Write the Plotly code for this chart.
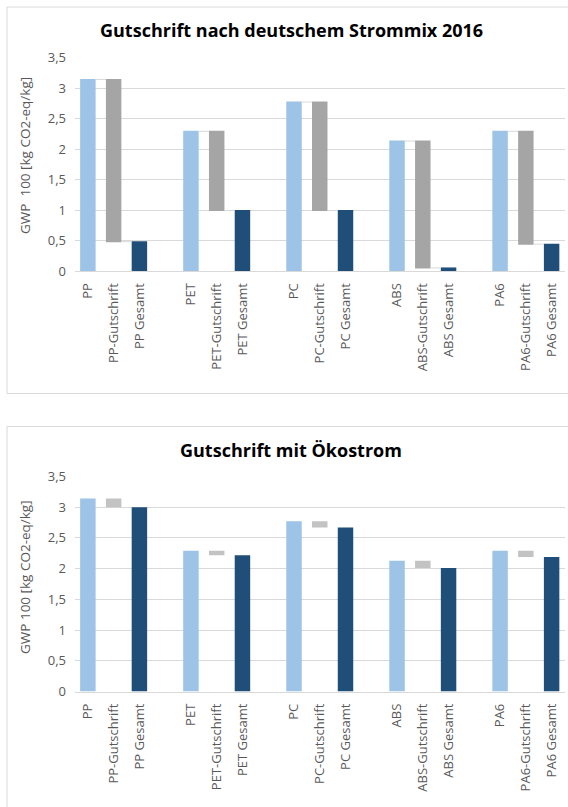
import plotly.graph_objects as go

# Material groups and GWP 100 values [kg CO2-eq/kg]
materials = ["PP", "PET", "PC", "ABS", "PA6"]
gwp_production = [3.14, 2.29, 2.77, 2.13, 2.29]
total_strommix = [0.48, 0.99, 0.99, 0.05, 0.44]
total_oekostrom = [3.00, 2.22, 2.67, 2.01, 2.19]

titles = ["Gutschrift nach deutschem Strommix 2016", "Gutschrift mit Ökostrom"]
y_titles = ["GWP \u00a0100 [kg CO2-eq/kg]", "GWP 100 [kg CO2-eq/kg]"]
y_ticks = [0, 0.5, 1, 1.5, 2, 2.5, 3, 3.5]

LIGHT_BLUE = "#9dc3e6"
DARK_BLUE = "#1f4e79"
GREYS = ["#a5a5a5", "#c3c3c3"]
GRID = "#d9d9d9"
TEXT = "#595959"
FONT = "Open Sans"

W, H = 568, 807


def px_x(v):
    return v / W


def px_y(v):
    return 1 - v / H


# plot area geometry (pixels): [top, bottom] for each chart, shared left/right
plot_rows = [(57.5, 271.0), (476.5, 691.5)]
plot_left, plot_right = 75.0, 564.5
boxes = [(7, 7, 570, 393.5), (7, 426.5, 570, 812)]
title_y = [30, 450]
ytitle_y = [156, 577]

totals_per_chart = [total_strommix, total_oekostrom]

fig = go.Figure()

tickvals, ticktext = [], []
for g, m in enumerate(materials):
    for k, lab in enumerate([m, f"{m}-Gutschrift", f"{m} Gesamt"]):
        tickvals.append(g * 4 + k)
        ticktext.append(lab)

for c in range(2):
    xa = "x" if c == 0 else "x2"
    ya = "y" if c == 0 else "y2"
    for g, m in enumerate(materials):
        base = gwp_production[g]
        credit = totals_per_chart[c][g] - base
        fig.add_trace(go.Waterfall(
            x=[g * 4, g * 4 + 1, g * 4 + 2],
            y=[base, credit, 0],
            measure=["relative", "relative", "total"],
            width=0.6,
            increasing=dict(marker=dict(color=LIGHT_BLUE, line=dict(width=0))),
            decreasing=dict(marker=dict(color=GREYS[c], line=dict(width=0))),
            totals=dict(marker=dict(color=DARK_BLUE, line=dict(width=0))),
            connector=dict(visible=(c == 0), mode="between",
                           line=dict(color=GRID, width=1)),
            showlegend=False,
            hoverinfo="skip",
            xaxis=xa, yaxis=ya,
        ))

axis_x = dict(
    range=[-0.5, 18.5],
    tickmode="array", tickvals=tickvals, ticktext=ticktext,
    tickangle=-90, ticks="", showgrid=False, zeroline=False,
    showline=True, linecolor=GRID, linewidth=1,
    tickfont=dict(family=FONT, size=13, color=TEXT),
    ticklabelstandoff=6,
    domain=[px_x(plot_left), px_x(plot_right)],
    automargin=False,
    fixedrange=True,
)

layout_axes = {}
for c in range(2):
    top, bottom = plot_rows[c]
    xkey = "xaxis" if c == 0 else "xaxis2"
    ykey = "yaxis" if c == 0 else "yaxis2"
    xd = dict(axis_x)
    xd["anchor"] = "y" if c == 0 else "y2"
    layout_axes[xkey] = xd
    layout_axes[ykey] = dict(
        range=[0, 3.5], tickmode="array", tickvals=y_ticks,
        ticks="", showgrid=True, gridcolor=GRID, gridwidth=1,
        zeroline=False, showline=False,
        tickfont=dict(family=FONT, size=13, color=TEXT),
        ticklabelstandoff=8,
        domain=[px_y(bottom), px_y(top)],
        anchor="x" if c == 0 else "x2",
        automargin=False,
        fixedrange=True,
    )

shapes = []
for (x0, y0, x1, y1) in boxes:
    shapes.append(dict(
        type="rect", xref="paper", yref="paper",
        x0=px_x(x0), x1=px_x(x1), y0=px_y(y1), y1=px_y(y0),
        line=dict(color=GRID, width=1), fillcolor="rgba(0,0,0,0)",
        layer="below",
    ))

annotations = []
for c in range(2):
    annotations.append(dict(
        text=f"<b>{titles[c]}</b>", xref="paper", yref="paper",
        x=px_x(291), y=px_y(title_y[c]), xanchor="center", yanchor="middle",
        showarrow=False, font=dict(family=FONT, size=18, color="#000000"),
    ))
    annotations.append(dict(
        text=y_titles[c], xref="paper", yref="paper",
        x=px_x(25), y=px_y(ytitle_y[c]), xanchor="center", yanchor="middle",
        textangle=-90, showarrow=False,
        font=dict(family=FONT, size=13.5, color=TEXT),
    ))

fig.update_layout(
    width=W, height=H,
    margin=dict(l=0, r=0, t=0, b=0, autoexpand=False),
    paper_bgcolor="white", plot_bgcolor="white",
    separators=",.",
    waterfallmode="overlay",
    shapes=shapes, annotations=annotations,
    **layout_axes,
)

fig.write_html("out.html", config={"displayModeBar": False})
